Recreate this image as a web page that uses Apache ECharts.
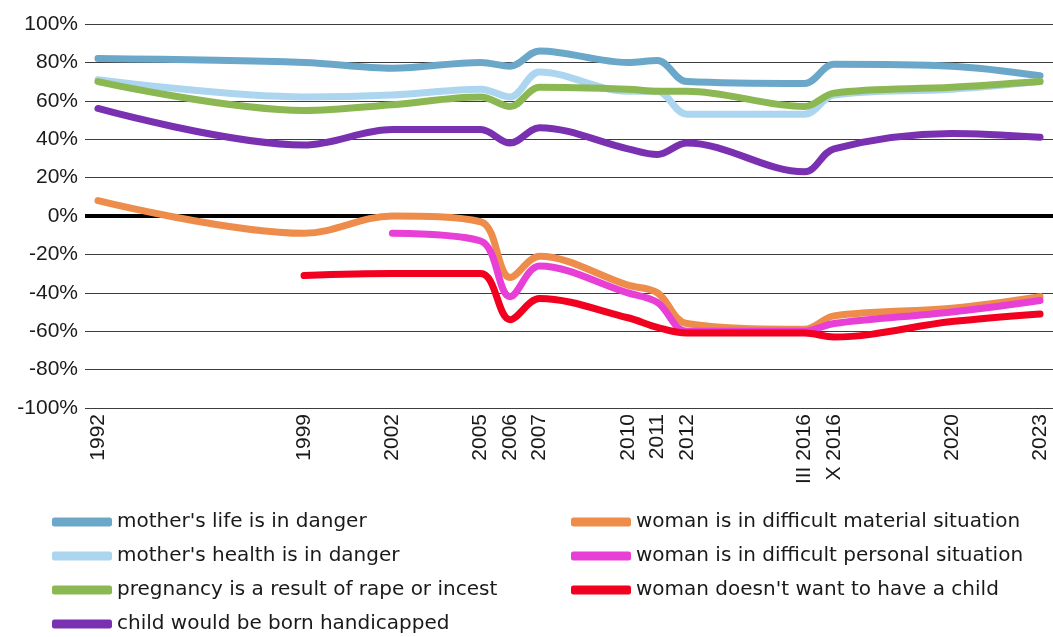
<!DOCTYPE html>
<html>
<head>
<meta charset="utf-8">
<script src="https://cdn.jsdelivr.net/npm/echarts@6/dist/echarts.min.js"></script>
<style>
  html, body { margin: 0; padding: 0; background: #fff; }
  #chart { width: 1053px; height: 637px; }
</style>
</head>
<body>
<div id="chart"></div>
<script>
// survey waves, placed on an uneven time scale
const periods = ['1992', '1999', '2002', '2005', '2006', '2007', '2010', '2011', '2012', 'III 2016', 'X 2016', '2020', '2023'];
const positions = [0, 7, 10, 13, 14, 15, 18, 19, 20, 24, 25, 29, 32];

// share of answers, %
const lifeDanger   = [82, 80, 77, 80, 78, 86, 80, 81, 70, 69, 79, 78, 73];
const healthDanger = [71, 62, 63, 66, 62, 75, 65, 65, 53, 53, 63, 66, 70];
const rapeIncest   = [70, 55, 58, 62, 57, 67, 66, 65, 65, 57, 64, 67, 70];
const handicapped  = [56, 37, 45, 45, 38, 46, 35, 32, 38, 23, 35, 43, 41];
const material     = [8, -9, 0, -3, -32, -21, -36, -40, -56, -59, -52, -48, -42];
const personal     = [null, null, -9, -13, -42, -26, -40, -45, -60, -60, -56, -50, -44];
const notWant      = [null, -31, -30, -30, -54, -43, -53, -58, -61, -61, -63, -55, -51];

const names = [
  "mother's life is in danger",
  "mother's health is in danger",
  'pregnancy is a result of rape or incest',
  'child would be born handicapped',
  'woman is in difficult material situation',
  'woman is in difficult personal situation',
  "woman doesn't want to have a child"
];
const colors = ['#6ba7c9', '#acd6ef', '#8cb853', '#7a31b1', '#ee8d4b', '#e83fd6', '#f2001f'];
const values = [lifeDanger, healthDanger, rapeIncest, handicapped, material, personal, notWant];

// pair each value with its position on the x axis, skip missing waves
function toPoints(arr) {
  const out = [];
  arr.forEach((v, i) => {
    if (v !== null) out.push([positions[i], v]);
  });
  return out;
}

const labelFont = 'Liberation Sans, Arial, sans-serif';

const series = names.map((name, i) => ({
  name: name,
  type: 'line',
  smooth: 0.35,
  symbol: 'none',
  data: toPoints(values[i]),
  lineStyle: { width: 7, color: colors[i], cap: 'round', join: 'round' },
  itemStyle: { color: colors[i] },
  z: 3 + i
}));

// thick zero line
series[0].markLine = {
  silent: true,
  symbol: 'none',
  label: { show: false },
  lineStyle: { color: '#000', width: 4, type: 'solid' },
  data: [{ yAxis: 0 }],
  z: 1
};

const legendText = { fontFamily: 'DejaVu Sans, sans-serif', fontSize: 20, color: '#1a1a1a' };
const legendBase = {
  orient: 'vertical',
  top: 512,
  padding: 0,
  itemWidth: 60,
  itemHeight: 9,
  itemGap: 14,
  icon: 'roundRect',
  textStyle: legendText
};

const myChart = echarts.init(document.getElementById('chart'));
const option = {
  backgroundColor: '#fff',
  animation: false,
  grid: { left: 85, right: 0, top: 24, bottom: 229 },
  legend: [
    Object.assign({}, legendBase, { left: 52, data: names.slice(0, 4) }),
    Object.assign({}, legendBase, { left: 571, data: names.slice(4) })
  ],
  xAxis: {
    type: 'value',
    min: -0.44,
    max: 32.44,
    axisLine: { show: false },
    axisTick: { show: false },
    splitLine: { show: false },
    axisLabel: {
      customValues: positions,
      rotate: 90,
      margin: 6,
      fontFamily: labelFont,
      fontSize: 21,
      color: '#1a1a1a',
      formatter: function (v) {
        const k = positions.indexOf(Math.round(v));
        return k >= 0 ? periods[k] : '';
      }
    }
  },
  yAxis: {
    type: 'value',
    min: -100,
    max: 100,
    interval: 20,
    axisLine: { show: false },
    axisTick: { show: false },
    splitLine: { lineStyle: { color: '#3c3c3c', width: 1 } },
    axisLabel: {
      margin: 7,
      fontFamily: labelFont,
      fontSize: 21,
      color: '#1a1a1a',
      formatter: '{value}%'
    }
  },
  series: series
};
myChart.setOption(option);
</script>
</body>
</html>
